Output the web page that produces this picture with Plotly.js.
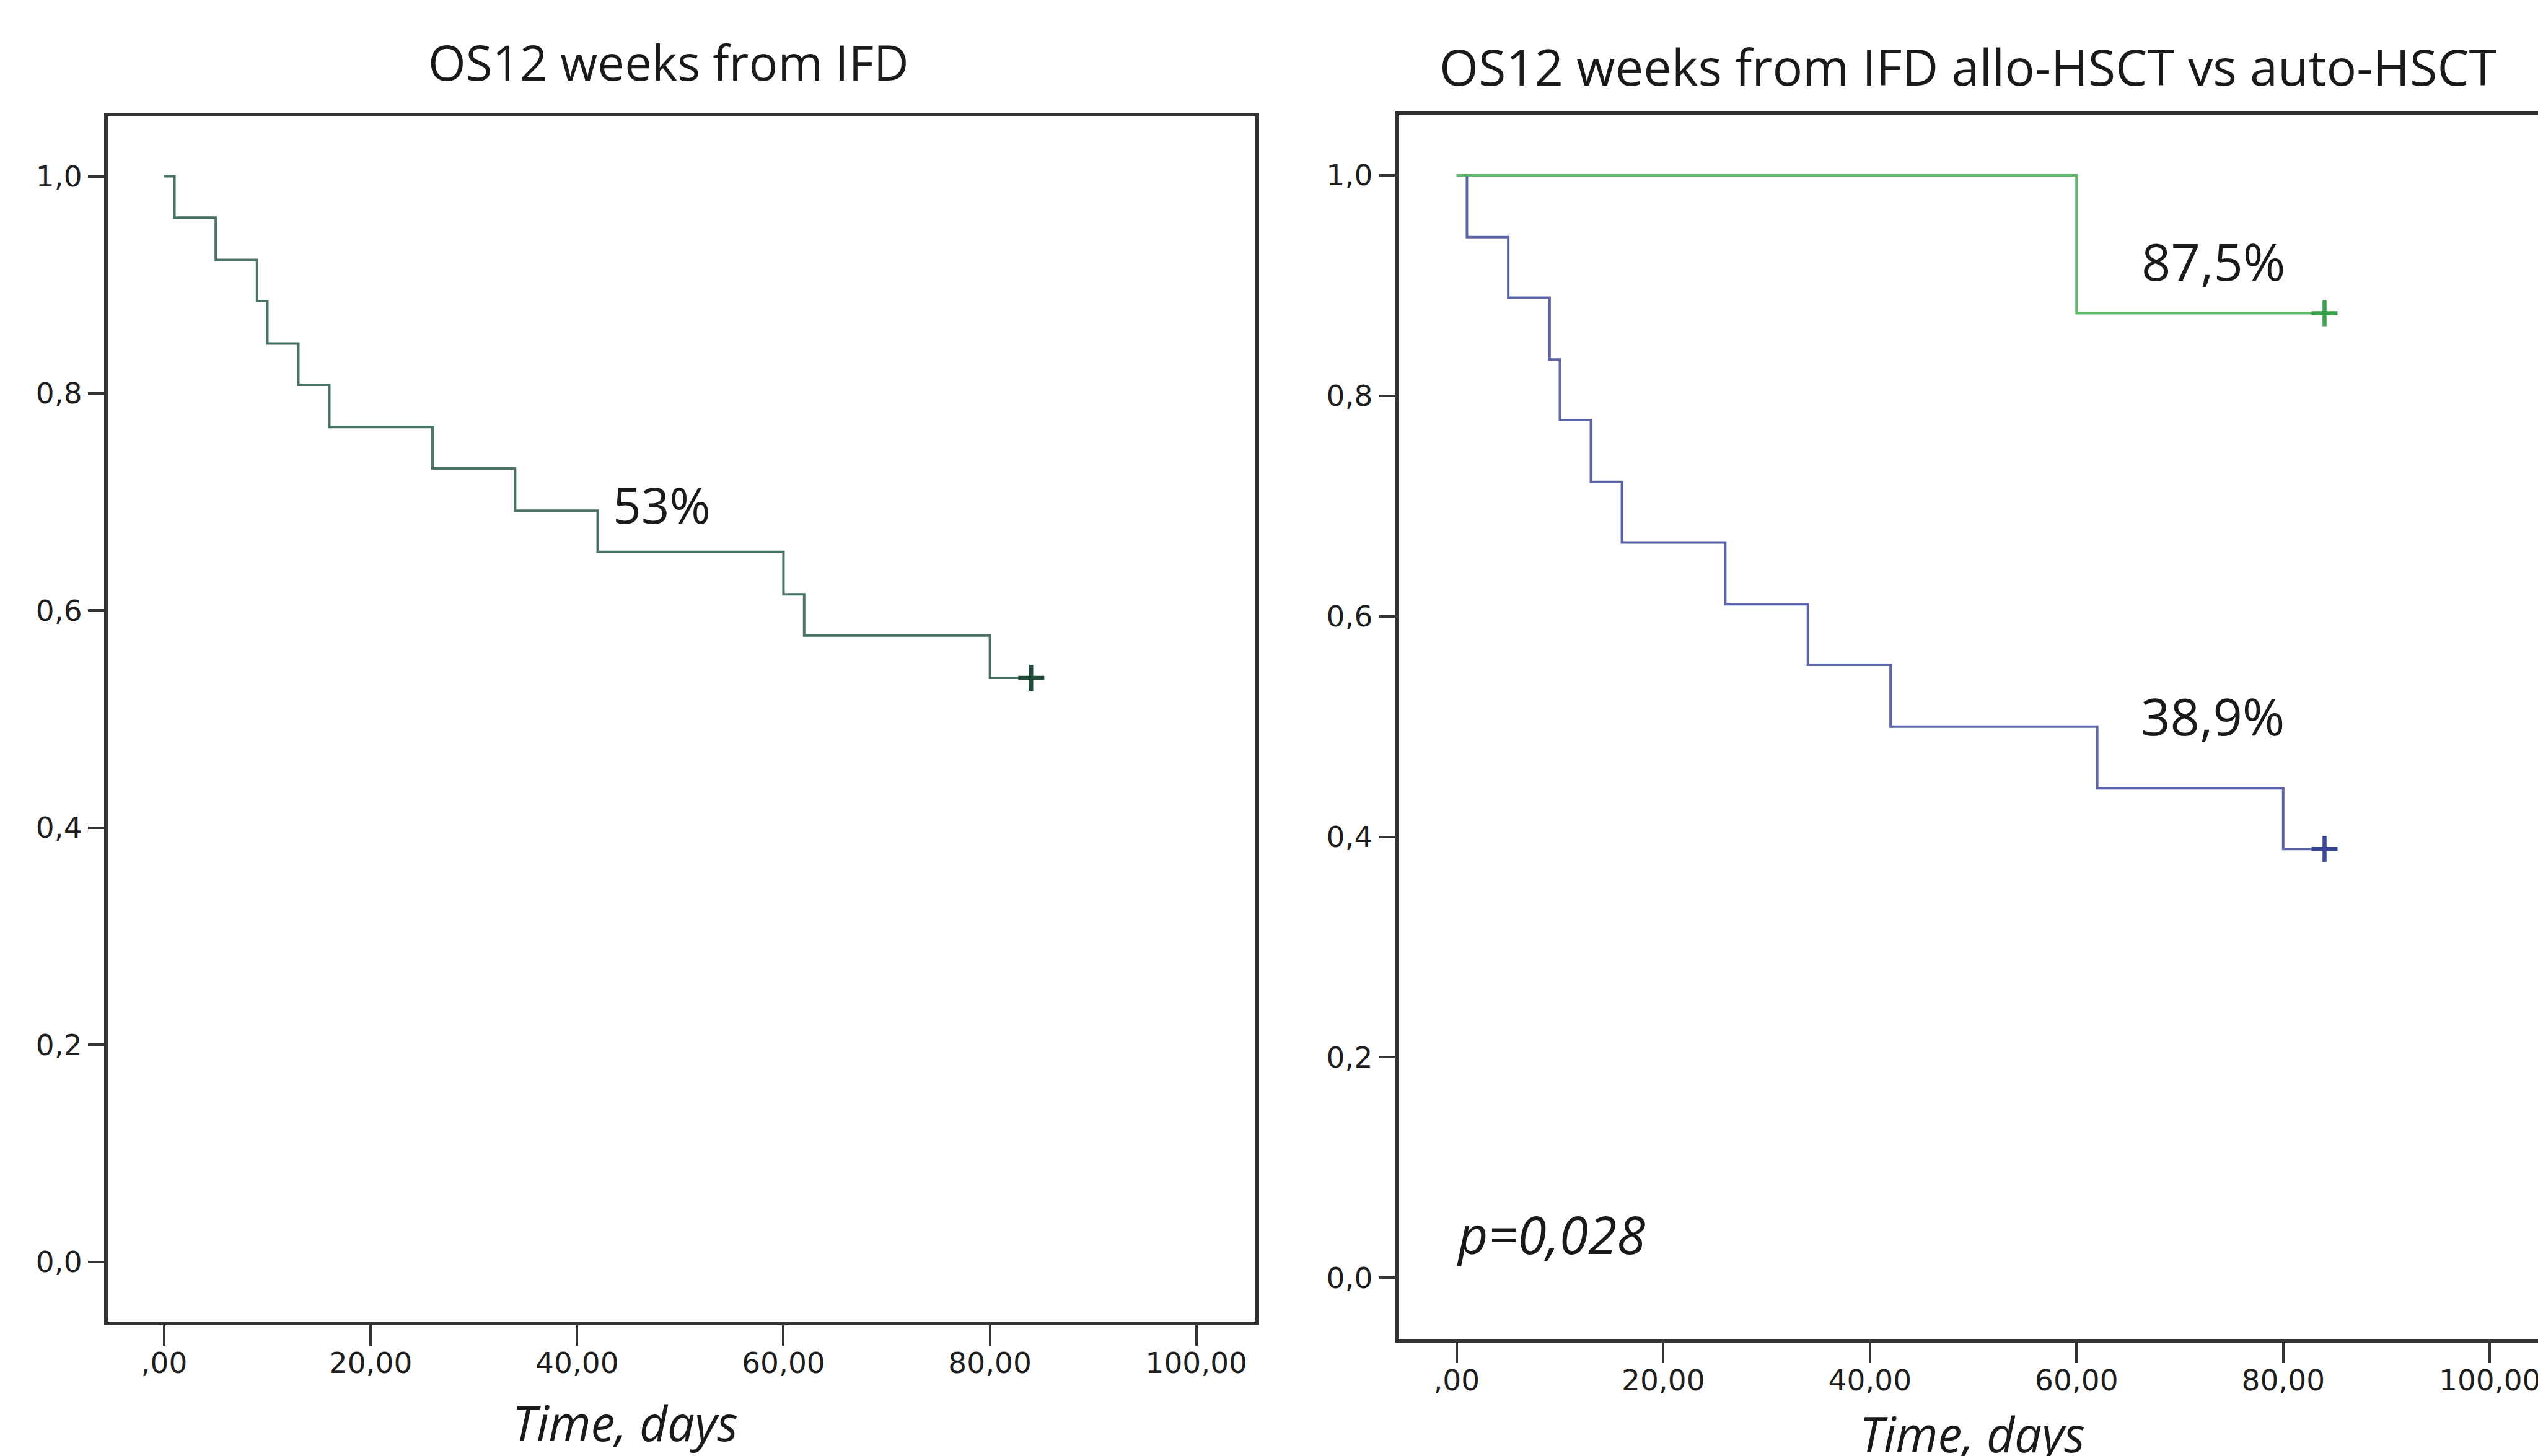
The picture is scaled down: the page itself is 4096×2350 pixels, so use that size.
<!DOCTYPE html>
<html>
<head>
<meta charset="utf-8">
<script src="https://cdn.plot.ly/plotly-3.0.1.min.js"></script>
<style>html,body{margin:0;padding:0;background:#fff;}#chart{width:4096px;height:2350px;}</style>
</head>
<body>
<div id="chart"></div>
<script>
// ---- Data ----
// Left panel: overall OS, 12 weeks from IFD
const allTime = [0, 1, 5, 9, 10, 13, 16, 26, 34, 42, 60, 62, 80, 84];
const allSurv = [1.0, 0.962, 0.923, 0.885, 0.846, 0.808, 0.769, 0.731, 0.692, 0.654, 0.615, 0.577, 0.538, 0.538];
const allCensorTime = [84];
const allCensorSurv = [0.538];

// Right panel: allo-HSCT vs auto-HSCT
const alloTime = [0, 60, 84];
const alloSurv = [1.0, 0.875, 0.875];
const alloCensorTime = [84];
const alloCensorSurv = [0.875];

const autoTime = [0, 1, 5, 9, 10, 13, 16, 26, 34, 42, 62, 80, 84];
const autoSurv = [1.0, 0.944, 0.889, 0.833, 0.778, 0.722, 0.667, 0.611, 0.556, 0.5, 0.444, 0.389, 0.389];
const autoCensorTime = [84];
const autoCensorSurv = [0.389];

// Tick values / labels
const xTickVals = [0, 20, 40, 60, 80, 100];
const xTickText = [",00", "20,00", "40,00", "60,00", "80,00", "100,00"];
const yTickVals = [0, 0.2, 0.4, 0.6, 0.8, 1.0];
const yTickText = ["0,0", "0,2", "0,4", "0,6", "0,8", "1,0"];

// Texts
const titleLeft = "OS12 weeks from IFD";
const titleRight = "OS12 weeks from IFD allo-HSCT vs auto-HSCT";
const xTitle = "Time, days";
const labelAll = "53%";
const labelAllo = "87,5%";
const labelAuto = "38,9%";
const pText = "p=0,028";

// ---- Styling ----
const TXT = "Open Sans, Lato, sans-serif";
const TICKF = "DejaVu Sans, sans-serif";
const AXC = "#333333";

const cLeft = "#4a7262";
const cLeftMark = "#1f4d36";
const cAllo = "#5db86c";
const cAlloMark = "#3aa24c";
const cAuto = "#5c64a8";
const cAutoMark = "#3a4698";

function censor(x, y, xa, ya, col) {
  return {x: x, y: y, xaxis: xa, yaxis: ya, mode: "markers",
    marker: {symbol: "cross-thin-open", size: 30, color: col, line: {width: 6.5, color: col}},
    hoverinfo: "skip"};
}

const traces = [
  {x: allTime, y: allSurv, xaxis: "x", yaxis: "y", mode: "lines",
   line: {shape: "hv", color: cLeft, width: 4}, hoverinfo: "skip"},
  censor(allCensorTime, allCensorSurv, "x", "y", cLeftMark),
  {x: autoTime, y: autoSurv, xaxis: "x2", yaxis: "y2", mode: "lines",
   line: {shape: "hv", color: cAuto, width: 4}, hoverinfo: "skip"},
  censor(autoCensorTime, autoCensorSurv, "x2", "y2", cAutoMark),
  {x: alloTime, y: alloSurv, xaxis: "x2", yaxis: "y2", mode: "lines",
   line: {shape: "hv", color: cAllo, width: 4}, hoverinfo: "skip"},
  censor(alloCensorTime, alloCensorSurv, "x2", "y2", cAlloMark)
];

function xAx(domain, range, anchor) {
  return {
    domain: domain, range: range, anchor: anchor,
    tickmode: "array", tickvals: xTickVals, ticktext: xTickText,
    ticks: "outside", ticklen: 33, tickwidth: 4, tickcolor: AXC,
    showline: true, linewidth: 6, linecolor: AXC, mirror: true,
    showgrid: false, zeroline: false,
    ticklabeloverflow: "allow", ticklabelstandoff: -12,
    tickfont: {family: TICKF, size: 47, color: "#1e1e1e"}
  };
}
function yAx(domain, range, anchor, mirror) {
  return {
    domain: domain, range: range, anchor: anchor,
    tickmode: "array", tickvals: yTickVals, ticktext: yTickText,
    ticks: "outside", ticklen: 26, tickwidth: 4, tickcolor: AXC,
    showline: true, linewidth: 6, linecolor: AXC, mirror: mirror,
    showgrid: false, zeroline: false,
    tickfont: {family: TICKF, size: 47, color: "#1e1e1e"}
  };
}

const layout = {
  width: 4096, height: 2350,
  margin: {l: 0, r: 0, t: 0, b: 0, pad: 0},
  paper_bgcolor: "#ffffff", plot_bgcolor: "#ffffff",
  showlegend: false,
  xaxis: xAx([0.04247, 0.49473], [-5.46, 105.74], "y"),
  yaxis: yAx([0.09251, 0.91997], [-0.0547, 1.0551], "x", true),
  xaxis2: xAx([0.55096, 1.0], [-5.64, 104.66], "y2"),
  yaxis2: yAx([0.0806, 0.92129], [-0.0552, 1.0551], "x2", false),
  annotations: [
    {xref: "paper", yref: "paper", x: 0.2634, y: 0.9574, xanchor: "center", yanchor: "middle",
     text: titleLeft, showarrow: false, font: {family: TXT, size: 78, color: "#1a1a1a"}},
    {xref: "paper", yref: "paper", x: 0.7754, y: 0.9546, xanchor: "center", yanchor: "middle",
     text: titleRight, showarrow: false, font: {family: TXT, size: 81, color: "#1a1a1a"}},
    {xref: "paper", yref: "paper", x: 0.2463, y: 0.0231, xanchor: "center", yanchor: "middle",
     text: xTitle, showarrow: false, font: {family: TXT, size: 78, color: "#1a1a1a", style: "italic"}},
    {xref: "paper", yref: "paper", x: 0.7771, y: 0.0155, xanchor: "center", yanchor: "middle",
     text: xTitle, showarrow: false, font: {family: TXT, size: 78, color: "#1a1a1a", style: "italic"}},
    {xref: "x", yref: "y", x: 48.2, y: 0.698, xanchor: "center", yanchor: "middle",
     text: labelAll, showarrow: false, font: {family: TXT, size: 80, color: "#1a1a1a"}},
    {xref: "x2", yref: "y2", x: 73.25, y: 0.923, xanchor: "center", yanchor: "middle",
     text: labelAllo, showarrow: false, font: {family: TXT, size: 83, color: "#1a1a1a"}},
    {xref: "x2", yref: "y2", x: 73.2, y: 0.510, xanchor: "center", yanchor: "middle",
     text: labelAuto, showarrow: false, font: {family: TXT, size: 83, color: "#1a1a1a"}},
    {xref: "x2", yref: "y2", x: -0.1, y: 0.040, xanchor: "left", yanchor: "middle",
     text: pText, showarrow: false, font: {family: TXT, size: 84, color: "#1a1a1a", style: "italic"}}
  ]
};

Plotly.newPlot("chart", traces, layout, {staticPlot: true, displayModeBar: false});
</script>
</body>
</html>
